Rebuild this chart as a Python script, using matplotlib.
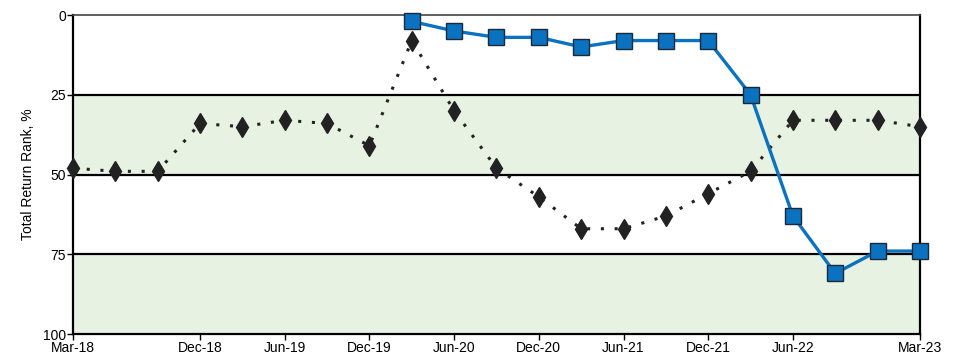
import numpy as np
import matplotlib.pyplot as plt

plt.rcParams['font.family'] = ['Liberation Sans', 'DejaVu Sans']

quarters = ['Mar-18', 'Jun-18', 'Sep-18', 'Dec-18', 'Mar-19', 'Jun-19', 'Sep-19',
            'Dec-19', 'Mar-20', 'Jun-20', 'Sep-20', 'Dec-20', 'Mar-21', 'Jun-21',
            'Sep-21', 'Dec-21', 'Mar-22', 'Jun-22', 'Sep-22', 'Dec-22', 'Mar-23']
peer_rank = [48, 49, 49, 34, 35, 33, 34, 41, 8, 30, 48, 57, 67, 67, 63, 56, 49,
             33, 33, 33, 35]
fund_quarters = quarters[8:]
fund_rank = [2, 5, 7, 7, 10, 8, 8, 8, 25, 63, 81, 74, 74]
tick_labels = ['Mar-18', 'Dec-18', 'Jun-19', 'Dec-19', 'Jun-20', 'Dec-20',
               'Jun-21', 'Dec-21', 'Jun-22', 'Mar-23']

x = np.arange(len(quarters))
xf = np.array([quarters.index(q) for q in fund_quarters])
xt = [quarters.index(q) for q in tick_labels]

fig = plt.figure(figsize=(9.63, 3.58), dpi=100)
ax = fig.add_axes([0.0758, 0.067, 0.8795, 0.891])

ax.axhspan(25, 50, color='#e8f2e2', zorder=0)
ax.axhspan(75, 100, color='#e8f2e2', zorder=0)
for yv in [25, 50, 75]:
    ax.axhline(yv, color='black', lw=1.6, zorder=1)

ax.plot(x, peer_rank, color='#222222', ls=(0, (1.0, 3.5)), lw=2.2,
        marker='d', ms=10.5, mfc='#222222', mec='#222222', clip_on=False, zorder=3)
ax.plot(xf, fund_rank, color='#0a72bf', lw=2.4, marker='s', ms=11,
        mfc='#0a72bf', mec='#1a2a3a', mew=1.0, clip_on=False, zorder=4)

ax.set_xlim(0, len(quarters) - 1)
ax.set_ylim(100, 0)
ax.set_yticks([0, 25, 50, 75, 100])
ax.set_xticks(xt)
ax.set_xticklabels(tick_labels)
ax.tick_params(labelsize=10, length=4, width=1, pad=1)
ax.set_ylabel('Total Return Rank, %', fontsize=10, labelpad=6)

for s in ['left', 'bottom', 'right']:
    ax.spines[s].set_linewidth(1.6)
ax.spines['top'].set_color('#444444')
ax.spines['top'].set_linewidth(1.2)

fig.savefig('out.png', dpi=100)
